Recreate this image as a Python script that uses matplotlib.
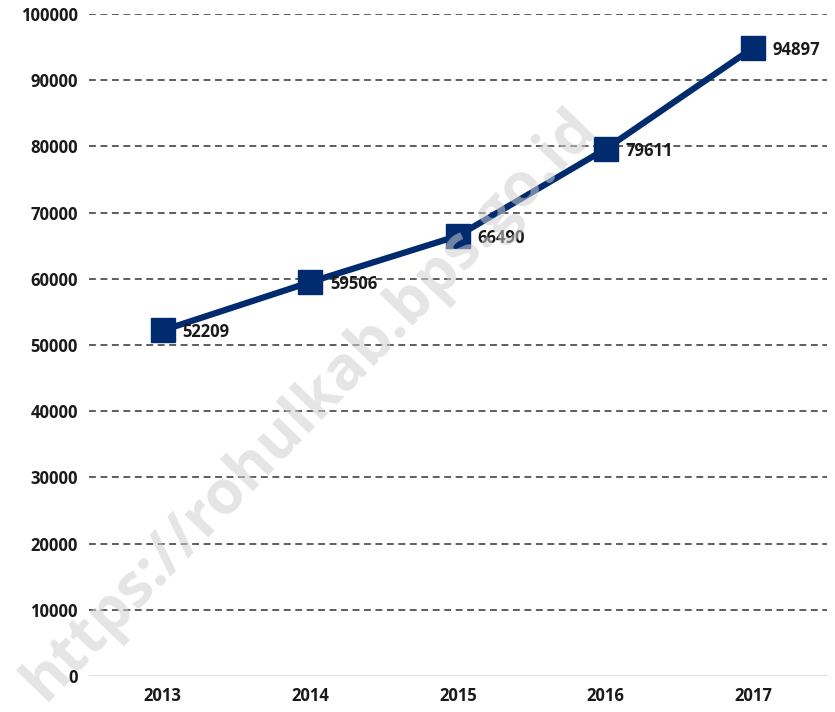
import matplotlib.pyplot as plt

years = ["2013", "2014", "2015", "2016", "2017"]
values = [52209, 59506, 66490, 79611, 94897]
yticks = [0, 10000, 20000, 30000, 40000, 50000, 60000, 70000, 80000, 90000, 100000]

NAVY = "#002b6f"
plt.rcParams["font.family"] = ["Open Sans", "DejaVu Sans"]

fig = plt.figure(figsize=(8.35, 7.12), dpi=100)
ax = fig.add_axes([89 / 835, 36 / 712, 738 / 835, 662 / 712])

x = list(range(len(years)))
ax.plot(x, values, color=NAVY, lw=4.5, marker="s", markersize=17, zorder=3)
for xi, v in zip(x, values):
    ax.annotate(str(v), (xi, v), xytext=(14, -1.5), textcoords="offset points",
                ha="left", va="center", fontsize=12, fontweight="bold", color="#1a1a1a", zorder=4)

for t in yticks[1:]:
    ax.axhline(t, color="#333333", lw=1.1, ls=(0, (4.5, 3)), zorder=1)
ax.axhline(0, color="#d9d9d9", lw=1.2, zorder=1)

ax.set_xlim(-0.5, 4.5)
ax.set_ylim(0, 100000)
ax.set_xticks(x)
ax.set_xticklabels(years)
ax.set_yticks(yticks)
ax.tick_params(length=0, labelsize=12, colors="#1a1a1a", pad=8)
for lbl in ax.get_xticklabels() + ax.get_yticklabels():
    lbl.set_fontweight("bold")
for s in ax.spines.values():
    s.set_visible(False)

fig.text(310 / 835, 1 - 405 / 712, "https://rohulkab.bps.go.id", rotation=46,
         ha="center", va="center", fontsize=44, fontweight="bold",
         color="#d0d0d0", alpha=0.55, zorder=0)

fig.savefig("out.png", dpi=100)
